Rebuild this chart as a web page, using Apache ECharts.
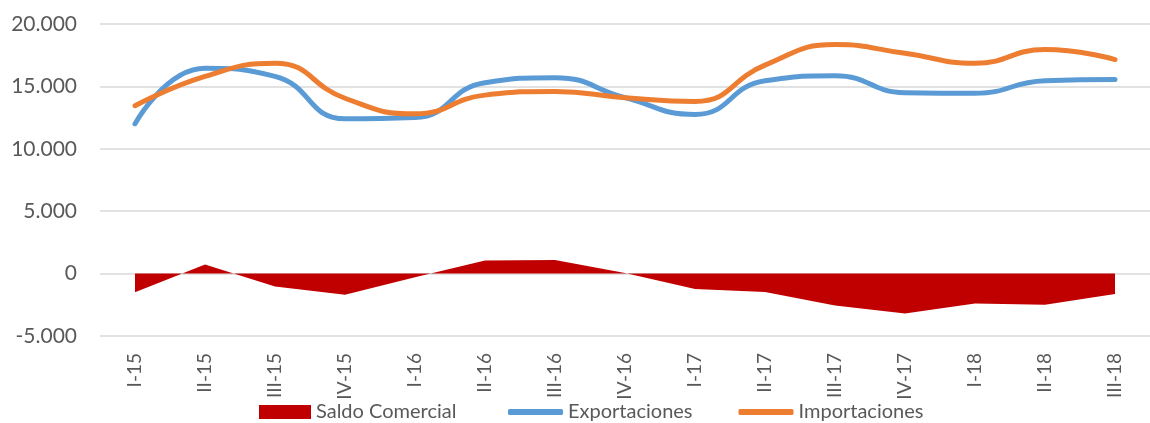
<!DOCTYPE html>
<html>
<head>
<meta charset="utf-8">
<script src="https://cdn.jsdelivr.net/npm/echarts@6/dist/echarts.min.js"></script>
<style>
html, body { margin: 0; padding: 0; background: #ffffff; }
#box { width: 1150px; height: 423px; }
</style>
</head>
<body>
<div id="box"></div>
<script>
// trimestres
const categories = ["I-15", "II-15", "III-15", "IV-15", "I-16", "II-16", "III-16", "IV-16",
	"I-17", "II-17", "III-17", "IV-17", "I-18", "II-18", "III-18"]
const saldo = [-1500, 720, -1040, -1700, -300, 1040, 1080, 50, -1230, -1470, -2560, -3200, -2400, -2500, -1630]
const exportaciones = [12000, 16450, 15800, 12400, 12500, 15300, 15700, 14100, 12750, 15450, 15850, 14500, 14450, 15450, 15550]
const importaciones = [13450, 15800, 16850, 14050, 12800, 14300, 14600, 14100, 13800, 16700, 18350, 17650, 16850, 17950, 17150]
const yTicks = { min: -5000, max: 20000, interval: 5000 }

const font = "Lato"
const grey = "#595959"
const legendText = { fontFamily: font, fontSize: 20, color: grey }

let myCharts = echarts.init(document.getElementById("box"))
let option = {
	animation: false,
	textStyle: { fontFamily: font },
	grid: { left: 100, width: 1060, top: 24, bottom: 87 },
	legend: [
		{
			left: 254,
			top: 397,
			itemWidth: 52,
			itemHeight: 14,
			textStyle: legendText,
			data: [{ name: "Saldo Comercial", icon: "rect" }],
		},
		{
			left: 503,
			top: 397,
			itemWidth: 55,
			itemHeight: 6,
			itemGap: 46,
			icon: "roundRect",
			textStyle: legendText,
			data: ["Exportaciones", "Importaciones"],
		},
	],
	xAxis: {
		type: "category",
		data: categories,
		boundaryGap: true,
		axisLine: { show: false, onZero: false },
		axisTick: { show: false },
		axisLabel: { rotate: 90, margin: 17, fontSize: 19, color: grey, fontFamily: font },
	},
	yAxis: {
		type: "value",
		min: yTicks.min,
		max: yTicks.max,
		interval: yTicks.interval,
		axisLine: { show: false },
		axisTick: { show: false },
		splitLine: { lineStyle: { color: "#D9D9D9", width: 1.5 } },
		axisLabel: {
			margin: 23,
			fontSize: 21,
			color: grey,
			fontFamily: font,
			formatter: (v) => v.toLocaleString("de-DE"),
		},
	},
	series: [
		{
			name: "Saldo Comercial",
			type: "line",
			data: saldo,
			symbol: "none",
			itemStyle: { color: "#C00000" },
			lineStyle: { width: 0 },
			areaStyle: { color: "#C00000", opacity: 1 },
		},
		{
			name: "Exportaciones",
			type: "line",
			data: exportaciones,
			smooth: 0.5,
			symbol: "none",
			itemStyle: { color: "#5B9BD5" },
			lineStyle: { color: "#5B9BD5", width: 5, cap: "round" },
		},
		{
			name: "Importaciones",
			type: "line",
			data: importaciones,
			smooth: 0.5,
			symbol: "none",
			itemStyle: { color: "#ED7D31" },
			lineStyle: { color: "#ED7D31", width: 5, cap: "round" },
		},
	],
}
myCharts.setOption(option)
</script>
</body>
</html>
